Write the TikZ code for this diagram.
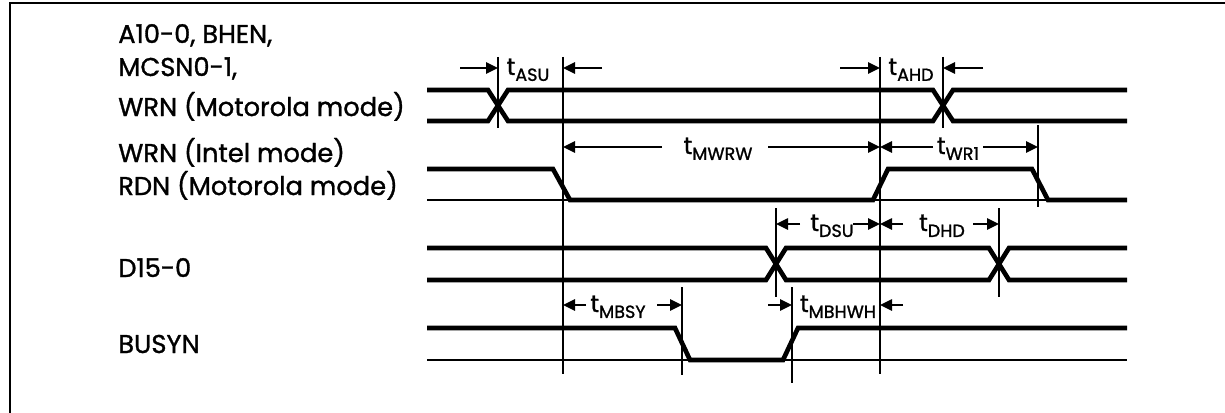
\documentclass[tikz,border=0pt]{standalone}
\usepackage{fontspec}
\setmainfont{Poppins}[FakeBold=1.2]
\usetikzlibrary{arrows.meta}

\tikzset{
  sig/.style={line width=3.3pt},
  refline/.style={line width=1.5pt},
  marker/.style={line width=1.4pt},
  dimarrow/.style={line width=1.4pt, -{Triangle[length=3mm, width=2.8mm]}},
  siglabel/.style={anchor=base west, inner sep=0pt, font=\fontsize{18.3}{20}\selectfont},
  tlabel/.style={anchor=base, inner sep=0pt, font=\fontsize{17}{20}\selectfont}
}
\newcommand{\tdel}[1]{t\raisebox{-0.45ex}{\fontsize{12.5}{13}\selectfont #1}}

\begin{document}
\begin{tikzpicture}[x=0.25mm, y=-0.25mm]
    \useasboundingbox (0,0) rectangle (1225,413);
    \draw[line width=2.1pt] (10,413) -- (10,3) -- (1225,3);

    % signal names
    \node[siglabel] (nA) at (118,43) {A10-0, BHEN,};
    \node[siglabel] (nM) at (118,76) {MCSN0-1,};
    \node[siglabel] (nW) at (118,116) {WRN (Motorola mode)};
    \node[siglabel] (nWi) at (118,162) {WRN (Intel mode)};
    \node[siglabel] (nR) at (118,195) {RDN (Motorola mode)};
    \node[siglabel] (nD) at (118,277) {D15-0};
    \node[siglabel] (nB) at (118,353) {BUSYN};

    % address
    \draw[sig] (427,90) -- (488,90) -- (508,121) -- (933,121) -- (953,90) -- (1127,90);
    \draw[sig] (427,121) -- (488,121) -- (508,90) -- (933,90) -- (953,121) -- (1127,121);
    % write strobe
    \draw[refline] (427,200) -- (1127,200);
    \draw[sig] (427,169) -- (553,169) -- (570,200) -- (873,200) -- (888,169) -- (1032,169) -- (1048,200) -- (1127,200);
    % data
    \draw[sig] (427,248) -- (766,248) -- (786,280) -- (989,280) -- (1009,248) -- (1127,248);
    \draw[sig] (427,280) -- (766,280) -- (786,248) -- (989,248) -- (1009,280) -- (1127,280);
    % busy
    \draw[refline] (427,360) -- (1127,360);
    \draw[sig] (427,328) -- (675,328) -- (690,360) -- (783,360) -- (798,328) -- (1127,328);

    % markers
    \coordinate (mASU) at (498,57);
    \coordinate (mL) at (563,57);
    \coordinate (mR) at (880,57);
    \coordinate (mAHD) at (943,57);
    \coordinate (mWR) at (1038,125);
    \coordinate (mDSU) at (776,208);
    \coordinate (mDHD) at (999,208);
    \coordinate (mBSY) at (682,287);
    \coordinate (mBHW) at (792,287);
    \draw[marker] (mASU) -- ++(0,71);
    \draw[marker] (mL) -- ++(0,317);
    \draw[marker] (mR) -- ++(0,317);
    \draw[marker] (mAHD) -- ++(0,71);
    \draw[marker] (mWR) -- ++(0,82);
    \draw[marker] (mDSU) -- ++(0,89);
    \draw[marker] (mDHD) -- ++(0,89);
    \draw[marker] (mBSY) -- ++(0,88);
    \draw[marker] (mBHW) -- ++(0,96);

    % timing parameters
    \node[tlabel] (tASU) at (528,75) {\tdel{ASU}};
    \draw[dimarrow] (460,68) -- (mASU |- 0,68);
    \draw[dimarrow] (602,68) -- (mL |- 0,68);

    \node[tlabel] (tAHD) at (911,75) {\tdel{AHD}};
    \draw[dimarrow] (840,68) -- (mR |- 0,68);
    \draw[dimarrow] (983,68) -- (mAHD |- 0,68);

    \node[tlabel] (tMWRW) at (718,154) {\tdel{MWRW}};
    \draw[dimarrow] (662,147) -- (mL |- 0,147);
    \draw[dimarrow] (768,147) -- (mR |- 0,147);

    \node[tlabel] (tWR) at (958,154) {\tdel{WR1}};
    \draw[dimarrow] (933,147) -- (mR |- 0,147);
    \draw[dimarrow] (983,147) -- (mWR |- 0,147);

    \node[tlabel] (tDSU) at (832,231) {\tdel{DSU}};
    \draw[dimarrow] (800,224) -- (mDSU |- 0,224);
    \draw[dimarrow] (853,224) -- (mR |- 0,224);

    \node[tlabel] (tDHD) at (942,231) {\tdel{DHD}};
    \draw[dimarrow] (903,224) -- (mR |- 0,224);
    \draw[dimarrow] (973,224) -- (mDHD |- 0,224);

    \node[tlabel] (tMBSY) at (618,312) {\tdel{MBSY}};
    \draw[dimarrow] (586,305) -- (mL |- 0,305);
    \draw[dimarrow] (657,305) -- (mBSY |- 0,305);

    \node[tlabel] (tMBHWH) at (838,312) {\tdel{MBHWH}};
    \draw[dimarrow] (768,305) -- (mBHW |- 0,305);
    \draw[dimarrow] (903,305) -- (mR |- 0,305);
\end{tikzpicture}
\end{document}
